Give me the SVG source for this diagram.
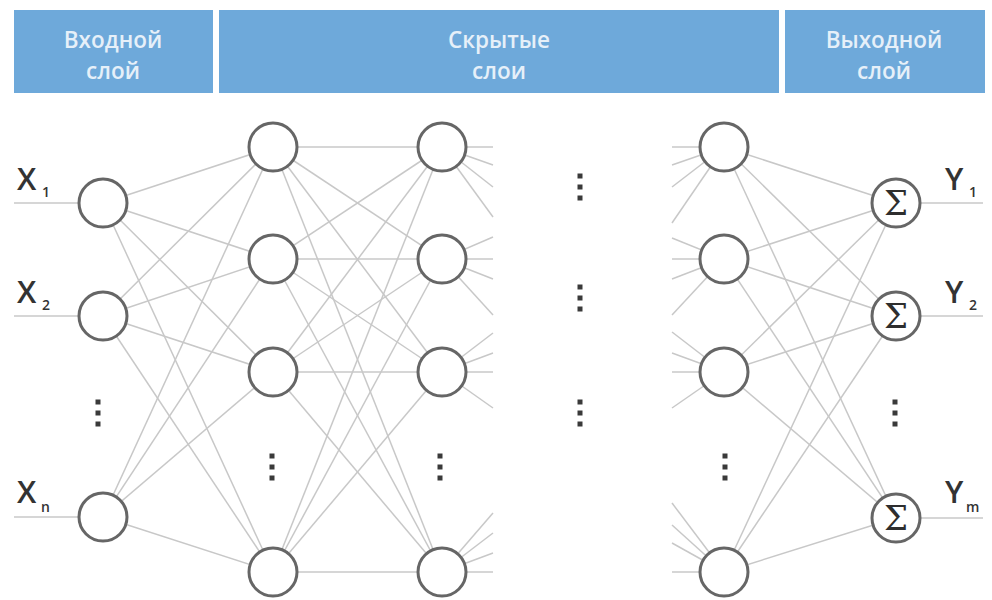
<svg xmlns="http://www.w3.org/2000/svg" width="992" height="600" viewBox="0 0 992 600">
<style>
.bar{fill:#6ea9da}
.ht{font-family:"Open Sans","Noto Sans",sans-serif;font-weight:600;font-size:22.5px;fill:#e6f0f9;text-anchor:middle}
.c line{stroke:#c8c8c8;stroke-width:1.5}
.io{stroke:#aaaaaa;stroke-width:1.5}
.n{fill:#ffffff;stroke:#666666;stroke-width:3}
.lbl{font-family:"Open Sans","Noto Sans",sans-serif;font-weight:600;font-size:31px;fill:#333}
.sub{font-family:"Open Sans","Noto Sans",sans-serif;font-weight:600;font-size:14px;fill:#333}
.sig{font-family:"DejaVu Serif","Liberation Serif",serif;font-size:34px;fill:#2e2e2e;text-anchor:middle}
.d rect{fill:#3a3a3a}
</style>
<rect width="992" height="600" fill="#ffffff"/>
<g id="header">
<rect class="bar" x="14" y="10" width="199" height="83"/>
<rect class="bar" x="219" y="10" width="560" height="83"/>
<rect class="bar" x="785" y="10" width="200" height="83"/>
<text class="ht" x="113" y="48">Входной</text>
<text class="ht" x="113" y="79">слой</text>
<text class="ht" x="499" y="48">Скрытые</text>
<text class="ht" x="499" y="79">слои</text>
<text class="ht" x="884" y="48">Выходной</text>
<text class="ht" x="884" y="79">слой</text>
</g>
<g id="connectors" class="c">
<line x1="103" y1="203" x2="273" y2="147"/><line x1="103" y1="203" x2="273" y2="259"/><line x1="103" y1="203" x2="273" y2="372"/><line x1="103" y1="203" x2="273" y2="572"/>
<line x1="103" y1="316" x2="273" y2="147"/><line x1="103" y1="316" x2="273" y2="259"/><line x1="103" y1="316" x2="273" y2="372"/><line x1="103" y1="316" x2="273" y2="572"/>
<line x1="103" y1="517" x2="273" y2="147"/><line x1="103" y1="517" x2="273" y2="259"/><line x1="103" y1="517" x2="273" y2="372"/><line x1="103" y1="517" x2="273" y2="572"/>
<line x1="273" y1="147" x2="442" y2="147"/><line x1="273" y1="147" x2="442" y2="259"/><line x1="273" y1="147" x2="442" y2="372"/><line x1="273" y1="147" x2="442" y2="572"/>
<line x1="273" y1="259" x2="442" y2="147"/><line x1="273" y1="259" x2="442" y2="259"/><line x1="273" y1="259" x2="442" y2="372"/><line x1="273" y1="259" x2="442" y2="572"/>
<line x1="273" y1="372" x2="442" y2="147"/><line x1="273" y1="372" x2="442" y2="259"/><line x1="273" y1="372" x2="442" y2="372"/><line x1="273" y1="372" x2="442" y2="572"/>
<line x1="273" y1="572" x2="442" y2="147"/><line x1="273" y1="572" x2="442" y2="259"/><line x1="273" y1="572" x2="442" y2="372"/><line x1="273" y1="572" x2="442" y2="572"/>
<line x1="442" y1="147" x2="493" y2="147"/><line x1="442" y1="147" x2="493" y2="165"/><line x1="442" y1="147" x2="493" y2="187"/><line x1="442" y1="147" x2="493" y2="217"/>
<line x1="442" y1="259" x2="493" y2="237"/><line x1="442" y1="259" x2="493" y2="259"/><line x1="442" y1="259" x2="493" y2="279"/><line x1="442" y1="259" x2="493" y2="315"/>
<line x1="442" y1="372" x2="493" y2="333"/><line x1="442" y1="372" x2="493" y2="353"/><line x1="442" y1="372" x2="493" y2="372"/><line x1="442" y1="372" x2="493" y2="408"/>
<line x1="442" y1="572" x2="493" y2="513"/><line x1="442" y1="572" x2="493" y2="533"/><line x1="442" y1="572" x2="493" y2="553"/><line x1="442" y1="572" x2="493" y2="572"/>
<line x1="672" y1="147" x2="724" y2="147"/><line x1="672" y1="165" x2="724" y2="147"/><line x1="672" y1="187" x2="724" y2="147"/><line x1="672" y1="223" x2="724" y2="147"/>
<line x1="672" y1="238" x2="724" y2="259"/><line x1="672" y1="259" x2="724" y2="259"/><line x1="672" y1="279" x2="724" y2="259"/><line x1="672" y1="315" x2="724" y2="259"/>
<line x1="672" y1="332" x2="724" y2="372"/><line x1="672" y1="353" x2="724" y2="372"/><line x1="672" y1="372" x2="724" y2="372"/><line x1="672" y1="408" x2="724" y2="372"/>
<line x1="672" y1="503" x2="724" y2="572"/><line x1="672" y1="525" x2="724" y2="572"/><line x1="672" y1="543" x2="724" y2="572"/><line x1="672" y1="572" x2="724" y2="572"/>
<line x1="724" y1="147" x2="896" y2="203"/><line x1="724" y1="147" x2="896" y2="316"/><line x1="724" y1="147" x2="896" y2="518"/>
<line x1="724" y1="259" x2="896" y2="203"/><line x1="724" y1="259" x2="896" y2="316"/><line x1="724" y1="259" x2="896" y2="518"/>
<line x1="724" y1="372" x2="896" y2="203"/><line x1="724" y1="372" x2="896" y2="316"/><line x1="724" y1="372" x2="896" y2="518"/>
<line x1="724" y1="572" x2="896" y2="203"/><line x1="724" y1="572" x2="896" y2="316"/><line x1="724" y1="572" x2="896" y2="518"/>
<line class="io" x1="14" y1="203" x2="80" y2="203"/><line class="io" x1="14" y1="316" x2="80" y2="316"/><line class="io" x1="14" y1="517" x2="80" y2="517"/>
<line class="io" x1="920" y1="203" x2="983" y2="203"/><line class="io" x1="920" y1="316" x2="983" y2="316"/><line class="io" x1="920" y1="518" x2="983" y2="518"/>
</g>
<g id="input-layer">
<circle id="x1" class="n" cx="103" cy="203" r="24"/>
<circle id="x2" class="n" cx="103" cy="316" r="24"/>
<circle id="xn" class="n" cx="103" cy="517" r="24"/>
</g>
<g id="hidden-1">
<circle class="n" cx="273" cy="147" r="24"/>
<circle class="n" cx="273" cy="259" r="24"/>
<circle class="n" cx="273" cy="372" r="24"/>
<circle class="n" cx="273" cy="572" r="24"/>
</g>
<g id="hidden-2">
<circle class="n" cx="442" cy="147" r="24"/>
<circle class="n" cx="442" cy="259" r="24"/>
<circle class="n" cx="442" cy="372" r="24"/>
<circle class="n" cx="442" cy="572" r="24"/>
</g>
<g id="hidden-last">
<circle class="n" cx="724" cy="147" r="24"/>
<circle class="n" cx="724" cy="259" r="24"/>
<circle class="n" cx="724" cy="372" r="24"/>
<circle class="n" cx="724" cy="572" r="24"/>
</g>
<g id="output-layer">
<g id="y1"><circle class="n" cx="896" cy="203" r="24"/><text class="sig" x="896" y="215">Σ</text></g>
<g id="y2"><circle class="n" cx="896" cy="316" r="24"/><text class="sig" x="896" y="328">Σ</text></g>
<g id="ym"><circle class="n" cx="896" cy="518" r="24"/><text class="sig" x="896" y="530">Σ</text></g>
</g>
<g id="dots" class="d">
<rect x="95.5" y="399.5" width="5" height="5"/><rect x="95.5" y="410.5" width="5" height="5"/><rect x="95.5" y="421.5" width="5" height="5"/>
<rect x="269.5" y="453.5" width="5" height="5"/><rect x="269.5" y="464.5" width="5" height="5"/><rect x="269.5" y="475.5" width="5" height="5"/>
<rect x="437.5" y="453.5" width="5" height="5"/><rect x="437.5" y="464.5" width="5" height="5"/><rect x="437.5" y="475.5" width="5" height="5"/>
<rect x="577.5" y="173.5" width="5" height="5"/><rect x="577.5" y="184.5" width="5" height="5"/><rect x="577.5" y="195.5" width="5" height="5"/>
<rect x="577.5" y="284.5" width="5" height="5"/><rect x="577.5" y="295.5" width="5" height="5"/><rect x="577.5" y="306.5" width="5" height="5"/>
<rect x="577.5" y="399.5" width="5" height="5"/><rect x="577.5" y="410.5" width="5" height="5"/><rect x="577.5" y="421.5" width="5" height="5"/>
<rect x="722.5" y="453.5" width="5" height="5"/><rect x="722.5" y="464.5" width="5" height="5"/><rect x="722.5" y="475.5" width="5" height="5"/>
<rect x="892.5" y="399.5" width="5" height="5"/><rect x="892.5" y="410.5" width="5" height="5"/><rect x="892.5" y="421.5" width="5" height="5"/>
</g>
<g id="labels">
<text class="lbl" x="17" y="190">X</text><text class="sub" x="42" y="197">1</text>
<text class="lbl" x="17" y="303">X</text><text class="sub" x="42" y="310">2</text>
<text class="lbl" x="17" y="503">X</text><text class="sub" x="41" y="512">n</text>
<text class="lbl" x="945" y="190">Y</text><text class="sub" x="969" y="197">1</text>
<text class="lbl" x="945" y="303">Y</text><text class="sub" x="969" y="310">2</text>
<text class="lbl" x="945" y="503">Y</text><text class="sub" x="966" y="512">m</text>
</g>
</svg>
